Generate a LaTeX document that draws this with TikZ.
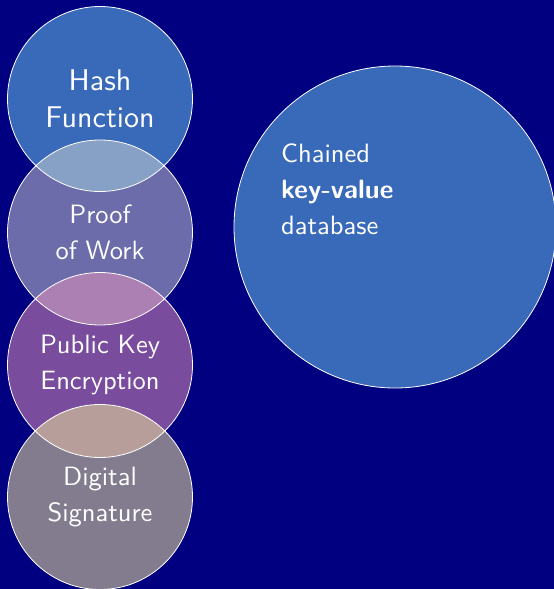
\documentclass[tikz,border=0pt]{standalone}
\usepackage{fontspec}
\setsansfont{lmsans10-regular.otf}[BoldFont=lmsans10-bold.otf]
\definecolor{bgnavy}{RGB}{0,0,128}
\definecolor{cone}{RGB}{57,106,185}
\definecolor{ctwo}{RGB}{108,108,170}
\definecolor{cthree}{RGB}{122,76,157}
\definecolor{cfour}{RGB}{130,124,142}
\definecolor{oonetwo}{RGB}{135,160,198}
\definecolor{otwothree}{RGB}{172,128,178}
\definecolor{othreefour}{RGB}{184,158,154}
\tikzset{
  ring/.style={circle, draw=white, line width=0.8pt, minimum size=185pt, inner sep=0pt, text=white, align=center},
  bigring/.style={circle, draw=white, line width=0.8pt, minimum size=322pt, inner sep=0pt},
  lbl/.style={font=\sffamily\fontsize{26.5}{36}\selectfont},
  lblbig/.style={font=\sffamily\fontsize{30}{37}\selectfont},
}
\begin{document}
\begin{tikzpicture}[x=1pt,y=-1pt]
\useasboundingbox (0,0) rectangle (554,589);
\fill[bgnavy] (0,0) rectangle (554,589);
\coordinate (c1) at (100,99);
\coordinate (c2) at (100,232.5);
\coordinate (c3) at (100,365);
\coordinate (c4) at (100,497);
\coordinate (cb) at (395,227);
% fills
\fill[cone] (c1) circle[radius=92.5pt];
\fill[ctwo] (c2) circle[radius=92.5pt];
\fill[cthree] (c3) circle[radius=92.5pt];
\fill[cfour] (c4) circle[radius=92.5pt];
\fill[cone] (cb) circle[radius=161pt];
% overlaps
\begin{scope}
\clip (c1) circle[radius=92.5pt];
\fill[oonetwo] (c2) circle[radius=92.5pt];
\end{scope}
\begin{scope}
\clip (c2) circle[radius=92.5pt];
\fill[otwothree] (c3) circle[radius=92.5pt];
\end{scope}
\begin{scope}
\clip (c3) circle[radius=92.5pt];
\fill[othreefour] (c4) circle[radius=92.5pt];
\end{scope}
% outlines and labels
\node[ring, lblbig] (hash) at (c1) {Hash\\Function};
\node[ring, lbl] (pow) at (c2) {Proof\\of Work};
\node[ring, lbl] (pke) at (c3) {Public Key\\Encryption};
\node[ring, lbl] (sig) at (c4) {Digital\\Signature};
\node[bigring] (db) at (cb) {};
\node[lbl, text=white, align=left, anchor=north west, inner sep=0pt] (dbtext) at (281,144) {Chained\\\textbf{key-value}\\database};
\end{tikzpicture}
\end{document}
